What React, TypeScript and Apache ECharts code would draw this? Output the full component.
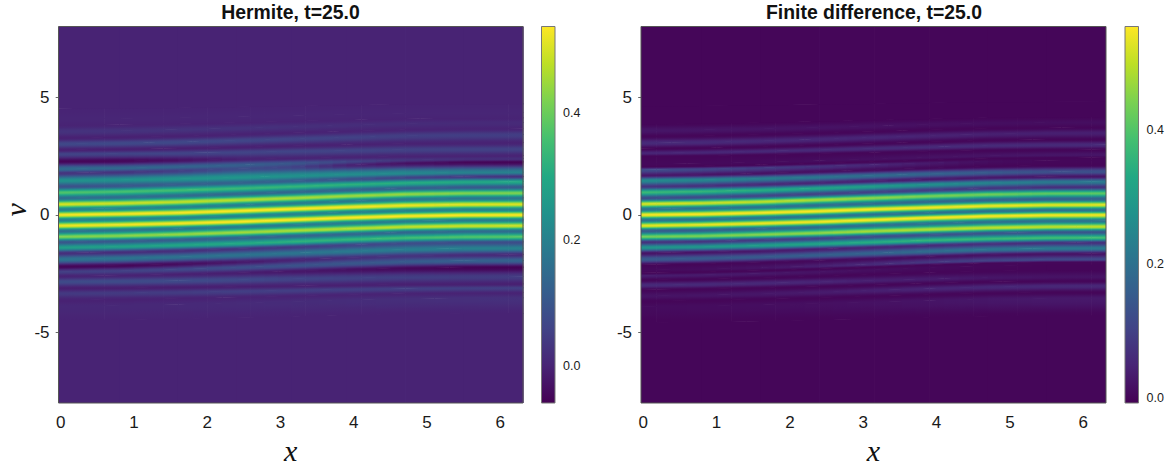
import React, { useEffect, useRef } from "react";
import * as echarts from "echarts";

const xStations = [-0.03, 0.8, 1.6, 2.4, 3.15, 3.9, 4.7, 5.5, 6.31];
const xTicks = [0, 1, 2, 3, 4, 5, 6];
const vTicks = [-5, 0, 5];
const hermiteBarTicks = [0, 0.2, 0.4];
const fdBarTicks = [0, 0.2, 0.4];
const hermiteRange = [-0.0585, 0.537];
const fdRange = [-0.0082, 0.555];

const flat = (v: number) => [v, v, v, v, v, v, v, v, v];

// Ridge and trough positions (v) at each x station, Hermite panel
const hermiteLevelV = [
  flat(-8),
  [-4.5, -4.48, -4.44, -4.39, -4.34, -4.28, -4.23, -4.21, -4.2],
  [-3.9, -3.87, -3.83, -3.77, -3.71, -3.64, -3.59, -3.56, -3.55],
  [-3.63, -3.61, -3.57, -3.52, -3.47, -3.41, -3.36, -3.34, -3.33],
  [-3.35, -3.33, -3.3, -3.26, -3.22, -3.18, -3.15, -3.13, -3.12],
  [-3.13, -3.12, -3.09, -3.06, -3.03, -3.0, -2.97, -2.96, -2.95],
  [-2.85, -2.83, -2.81, -2.77, -2.73, -2.7, -2.66, -2.65, -2.64],
  [-2.62, -2.59, -2.54, -2.48, -2.41, -2.34, -2.28, -2.25, -2.24],
  [-2.43, -2.39, -2.33, -2.25, -2.17, -2.08, -2.0, -1.96, -1.95],
  [-2.21, -2.17, -2.1, -2.02, -1.93, -1.84, -1.76, -1.72, -1.7],
  [-1.9, -1.86, -1.8, -1.72, -1.64, -1.56, -1.48, -1.44, -1.43],
  [-1.64, -1.6, -1.54, -1.46, -1.38, -1.3, -1.22, -1.18, -1.17],
  [-1.4, -1.36, -1.3, -1.23, -1.15, -1.06, -0.99, -0.95, -0.94],
  [-1.17, -1.13, -1.07, -0.99, -0.91, -0.83, -0.75, -0.71, -0.7],
  [-0.94, -0.9, -0.84, -0.76, -0.68, -0.6, -0.52, -0.48, -0.47],
  [-0.7, -0.66, -0.6, -0.52, -0.44, -0.36, -0.28, -0.24, -0.23],
  [-0.47, -0.43, -0.37, -0.3, -0.22, -0.13, -0.06, -0.02, -0.01],
  [-0.23, -0.19, -0.14, -0.06, 0.02, 0.1, 0.17, 0.21, 0.22],
  [-0.01, 0.03, 0.08, 0.16, 0.24, 0.32, 0.39, 0.43, 0.44],
  [0.22, 0.26, 0.32, 0.4, 0.48, 0.57, 0.65, 0.69, 0.7],
  [0.44, 0.48, 0.54, 0.62, 0.7, 0.79, 0.87, 0.91, 0.92],
  [0.7, 0.74, 0.8, 0.88, 0.96, 1.04, 1.12, 1.16, 1.17],
  [0.94, 0.98, 1.04, 1.11, 1.19, 1.28, 1.35, 1.39, 1.4],
  [1.19, 1.22, 1.28, 1.35, 1.43, 1.5, 1.57, 1.61, 1.62],
  [1.45, 1.48, 1.52, 1.58, 1.64, 1.71, 1.76, 1.79, 1.8],
  [1.76, 1.8, 1.86, 1.94, 2.02, 2.1, 2.18, 2.22, 2.23],
  [1.94, 1.97, 2.03, 2.1, 2.18, 2.25, 2.32, 2.36, 2.37],
  [2.26, 2.28, 2.31, 2.35, 2.39, 2.44, 2.47, 2.49, 2.5],
  [2.57, 2.59, 2.61, 2.65, 2.69, 2.72, 2.76, 2.77, 2.78],
  [2.75, 2.77, 2.81, 2.86, 2.92, 2.97, 3.02, 3.04, 3.05],
  [3.0, 3.03, 3.08, 3.15, 3.21, 3.28, 3.35, 3.38, 3.39],
  [3.25, 3.28, 3.33, 3.4, 3.47, 3.54, 3.61, 3.64, 3.65],
  [3.53, 3.56, 3.61, 3.67, 3.73, 3.8, 3.86, 3.89, 3.9],
  [3.8, 3.82, 3.86, 3.91, 3.97, 4.02, 4.07, 4.09, 4.1],
  [4.05, 4.07, 4.11, 4.15, 4.2, 4.25, 4.29, 4.31, 4.32],
  [4.5, 4.52, 4.54, 4.58, 4.61, 4.65, 4.68, 4.69, 4.7],
  flat(8),
];

// f(x,v) read along each of those levels, Hermite panel
const hermiteLevelF = [
  flat(0),
  flat(0),
  [0.008, 0.008, 0.01, 0.013, 0.015, 0.017, 0.02, 0.022, 0.024],
  [-0.003, -0.003, -0.002, -0.001, 0, 0, 0, 0, 0],
  [0.04, 0.042, 0.045, 0.05, 0.05, 0.05, 0.05, 0.05, 0.05],
  [-0.008, -0.008, -0.008, -0.007, -0.006, -0.006, -0.006, -0.006, -0.006],
  [0.075, 0.075, 0.075, 0.07, 0.06, 0.055, 0.05, 0.045, 0.045],
  [0, 0, -0.005, -0.01, -0.02, -0.03, -0.045, -0.055, -0.055],
  [0.05, 0.055, 0.065, 0.08, 0.09, 0.1, 0.11, 0.125, 0.13],
  [-0.05, -0.05, -0.04, -0.02, 0, 0.02, 0.03, 0.015, 0.01],
  [0.17, 0.17, 0.165, 0.165, 0.17, 0.18, 0.19, 0.2, 0.2],
  [0.02, 0.02, 0.02, 0.03, 0.04, 0.06, 0.08, 0.08, 0.08],
  [0.27, 0.28, 0.29, 0.3, 0.32, 0.33, 0.35, 0.37, 0.38],
  [0.1, 0.11, 0.12, 0.125, 0.13, 0.14, 0.14, 0.15, 0.15],
  [0.42, 0.43, 0.44, 0.45, 0.46, 0.47, 0.48, 0.49, 0.49],
  [0.16, 0.17, 0.17, 0.18, 0.18, 0.19, 0.19, 0.19, 0.19],
  [0.52, 0.525, 0.53, 0.535, 0.535, 0.535, 0.535, 0.535, 0.535],
  [0.2, 0.2, 0.2, 0.2, 0.2, 0.2, 0.2, 0.2, 0.2],
  [0.53, 0.53, 0.53, 0.535, 0.535, 0.53, 0.52, 0.505, 0.5],
  [0.2, 0.2, 0.2, 0.19, 0.19, 0.18, 0.18, 0.17, 0.17],
  [0.5, 0.49, 0.48, 0.47, 0.46, 0.45, 0.44, 0.42, 0.42],
  [0.15, 0.15, 0.15, 0.14, 0.14, 0.13, 0.12, 0.11, 0.11],
  [0.37, 0.36, 0.35, 0.34, 0.33, 0.32, 0.31, 0.3, 0.3],
  [0.09, 0.1, 0.12, 0.13, 0.12, 0.09, 0.06, 0.04, 0.03],
  [0.24, 0.24, 0.25, 0.25, 0.24, 0.23, 0.22, 0.2, 0.2],
  [0.03, 0.03, 0.05, 0.08, 0.06, 0, -0.03, -0.05, -0.055],
  [0.15, 0.14, 0.13, 0.12, 0.1, 0.06, 0.03, 0.02, 0.02],
  [-0.05, -0.05, -0.03, -0.005, 0, 0, 0, 0, 0],
  [0.06, 0.06, 0.06, 0.06, 0.06, 0.06, 0.055, 0.055, 0.055],
  [-0.006, -0.006, -0.006, -0.005, -0.005, -0.004, -0.003, -0.003, -0.003],
  [0.07, 0.07, 0.07, 0.065, 0.06, 0.055, 0.05, 0.05, 0.05],
  [-0.005, -0.005, -0.004, -0.003, -0.002, -0.001, 0, 0, 0],
  [0.028, 0.028, 0.027, 0.025, 0.022, 0.018, 0.016, 0.013, 0.013],
  flat(0),
  [0.005, 0.005, 0.005, 0.005, 0.005, 0.004, 0.004, 0.004, 0.004],
  flat(0),
  flat(0),
];

// Ridge and trough positions (v) at each x station, finite difference panel
const fdLevelV = [
  flat(-8),
  [-4.6, -4.58, -4.54, -4.49, -4.44, -4.38, -4.33, -4.31, -4.3],
  [-3.92, -3.89, -3.84, -3.78, -3.72, -3.66, -3.6, -3.57, -3.56],
  [-3.68, -3.65, -3.6, -3.54, -3.47, -3.4, -3.34, -3.31, -3.3],
  [-3.46, -3.43, -3.37, -3.3, -3.22, -3.15, -3.08, -3.04, -3.03],
  [-3.2, -3.17, -3.12, -3.06, -2.99, -2.92, -2.86, -2.83, -2.82],
  [-3.0, -2.97, -2.92, -2.86, -2.8, -2.74, -2.68, -2.65, -2.64],
  [-2.78, -2.75, -2.69, -2.62, -2.54, -2.47, -2.4, -2.36, -2.35],
  [-2.6, -2.56, -2.5, -2.43, -2.35, -2.26, -2.19, -2.15, -2.14],
  [-2.48, -2.44, -2.38, -2.31, -2.23, -2.14, -2.07, -2.03, -2.02],
  [-2.36, -2.32, -2.26, -2.19, -2.11, -2.02, -1.95, -1.91, -1.9],
  [-2.14, -2.1, -2.04, -1.96, -1.88, -1.79, -1.71, -1.67, -1.66],
  [-1.9, -1.86, -1.8, -1.72, -1.64, -1.56, -1.48, -1.44, -1.43],
  [-1.64, -1.6, -1.55, -1.47, -1.39, -1.31, -1.24, -1.2, -1.19],
  [-1.4, -1.37, -1.31, -1.24, -1.17, -1.09, -1.03, -0.99, -0.98],
  [-1.17, -1.14, -1.08, -1.01, -0.93, -0.86, -0.79, -0.75, -0.74],
  [-0.94, -0.91, -0.85, -0.78, -0.7, -0.63, -0.56, -0.52, -0.51],
  [-0.69, -0.66, -0.6, -0.53, -0.45, -0.38, -0.31, -0.27, -0.26],
  [-0.47, -0.43, -0.37, -0.3, -0.22, -0.13, -0.06, -0.02, -0.01],
  [-0.23, -0.2, -0.14, -0.07, 0.01, 0.08, 0.15, 0.19, 0.2],
  [-0.01, 0.02, 0.08, 0.15, 0.23, 0.3, 0.37, 0.41, 0.42],
  [0.23, 0.27, 0.32, 0.4, 0.47, 0.55, 0.62, 0.66, 0.67],
  [0.455, 0.49, 0.55, 0.63, 0.71, 0.79, 0.86, 0.9, 0.91],
  [0.7, 0.74, 0.8, 0.88, 0.96, 1.04, 1.12, 1.16, 1.17],
  [0.95, 0.99, 1.04, 1.12, 1.2, 1.28, 1.35, 1.39, 1.4],
  [1.19, 1.22, 1.28, 1.35, 1.43, 1.5, 1.57, 1.61, 1.62],
  [1.45, 1.48, 1.53, 1.59, 1.66, 1.73, 1.79, 1.82, 1.83],
  [1.66, 1.7, 1.75, 1.83, 1.9, 1.98, 2.05, 2.09, 2.1],
  [1.9, 1.93, 1.98, 2.05, 2.12, 2.19, 2.26, 2.29, 2.3],
  [2.04, 2.07, 2.12, 2.18, 2.25, 2.32, 2.38, 2.41, 2.42],
  [2.14, 2.17, 2.22, 2.29, 2.36, 2.43, 2.5, 2.53, 2.54],
  [2.47, 2.49, 2.53, 2.58, 2.63, 2.68, 2.73, 2.75, 2.76],
  [2.61, 2.64, 2.69, 2.75, 2.81, 2.87, 2.93, 2.96, 2.97],
  [2.8, 2.83, 2.88, 2.95, 3.02, 3.09, 3.16, 3.19, 3.2],
  [3.04, 3.07, 3.13, 3.2, 3.28, 3.35, 3.42, 3.46, 3.47],
  [3.32, 3.35, 3.4, 3.46, 3.53, 3.6, 3.66, 3.69, 3.7],
  [3.57, 3.6, 3.64, 3.7, 3.76, 3.83, 3.88, 3.91, 3.92],
  [3.85, 3.87, 3.91, 3.96, 4.02, 4.07, 4.12, 4.14, 4.15],
  [4.6, 4.62, 4.64, 4.68, 4.71, 4.75, 4.78, 4.79, 4.8],
  flat(8),
];

// f(x,v) read along each of those levels, finite difference panel
const fdLevelF = [
  flat(0),
  flat(0),
  [0.008, 0.01, 0.012, 0.015, 0.018, 0.022, 0.027, 0.03, 0.03],
  flat(0),
  [0.02, 0.022, 0.027, 0.033, 0.04, 0.047, 0.053, 0.055, 0.055],
  flat(0),
  [0.06, 0.058, 0.055, 0.05, 0.04, 0.035, 0.025, 0.02, 0.02],
  flat(0),
  [0.035, 0.032, 0.028, 0.02, 0.012, 0.006, 0.002, 0, 0],
  [0, 0, 0, 0, 0, 0.001, 0.001, 0.002, 0.002],
  [0.005, 0.01, 0.02, 0.04, 0.06, 0.08, 0.1, 0.11, 0.11],
  [0, 0, 0.002, 0.005, 0.01, 0.015, 0.02, 0.02, 0.02],
  [0.15, 0.15, 0.15, 0.16, 0.17, 0.19, 0.21, 0.22, 0.22],
  [0.02, 0.025, 0.03, 0.04, 0.05, 0.06, 0.07, 0.07, 0.07],
  [0.28, 0.29, 0.3, 0.32, 0.34, 0.36, 0.37, 0.38, 0.38],
  [0.07, 0.08, 0.09, 0.1, 0.12, 0.13, 0.14, 0.14, 0.14],
  [0.43, 0.44, 0.45, 0.46, 0.48, 0.49, 0.5, 0.5, 0.5],
  [0.15, 0.16, 0.17, 0.18, 0.19, 0.2, 0.2, 0.2, 0.2],
  [0.53, 0.535, 0.54, 0.545, 0.55, 0.55, 0.55, 0.545, 0.545],
  [0.2, 0.2, 0.2, 0.2, 0.2, 0.2, 0.2, 0.2, 0.2],
  [0.55, 0.55, 0.55, 0.55, 0.55, 0.545, 0.54, 0.53, 0.53],
  [0.2, 0.2, 0.2, 0.19, 0.19, 0.18, 0.17, 0.16, 0.16],
  [0.52, 0.51, 0.5, 0.48, 0.46, 0.44, 0.43, 0.41, 0.41],
  [0.12, 0.12, 0.11, 0.1, 0.1, 0.09, 0.08, 0.07, 0.07],
  [0.37, 0.36, 0.34, 0.32, 0.3, 0.27, 0.24, 0.22, 0.22],
  [0.08, 0.07, 0.06, 0.05, 0.04, 0.03, 0.03, 0.025, 0.025],
  [0.26, 0.25, 0.23, 0.21, 0.19, 0.17, 0.15, 0.13, 0.13],
  [0.03, 0.025, 0.02, 0.015, 0.01, 0.005, 0, 0, 0],
  [0.12, 0.11, 0.09, 0.07, 0.05, 0.03, 0.01, 0.002, 0.002],
  flat(0),
  [0.003, 0.004, 0.006, 0.01, 0.014, 0.018, 0.022, 0.025, 0.025],
  flat(0),
  [0.05, 0.052, 0.055, 0.058, 0.06, 0.06, 0.06, 0.06, 0.06],
  flat(0),
  [0.06, 0.058, 0.055, 0.052, 0.05, 0.046, 0.042, 0.04, 0.04],
  flat(0),
  [0.025, 0.024, 0.022, 0.02, 0.018, 0.015, 0.013, 0.012, 0.012],
  flat(0),
  flat(0),
  flat(0),
];

const viridisAnchors = [
  [68, 1, 84], [72, 36, 117], [65, 68, 135], [53, 95, 141], [42, 120, 142], [33, 145, 140],
  [34, 168, 132], [68, 191, 112], [122, 209, 81], [189, 223, 38], [253, 231, 37],
];

const viridis = (t: number) => {
  const c = Math.max(0, Math.min(1, t)) * (viridisAnchors.length - 1);
  const i = Math.min(Math.floor(c), viridisAnchors.length - 2);
  const f = c - i;
  const a = viridisAnchors[i];
  const b = viridisAnchors[i + 1];
  return `rgb(${Math.round(a[0] + (b[0] - a[0]) * f)},${Math.round(a[1] + (b[1] - a[1]) * f)},${Math.round(a[2] + (b[2] - a[2]) * f)})`;
};

const buildCells = (vs: number[][], fs: number[][]) => {
  const out: number[][] = [];
  for (let j = 0; j < vs.length - 1; j++) {
    for (let i = 0; i < xStations.length - 1; i++) {
      out.push([
        xStations[i], xStations[i + 1],
        vs[j][i], vs[j][i + 1], vs[j + 1][i], vs[j + 1][i + 1],
        fs[j][i], fs[j][i + 1], fs[j + 1][i], fs[j + 1][i + 1],
      ]);
    }
  }
  return out;
};

const STOPS = 7;
const mix = (a: number, b: number, t: number) => a + (b - a) * t;

const meshRenderer = (range: number[]) => (_p: any, api: any) => {
  const val = (i: number) => api.value(i) as number;
  const norm = (f: number) => (f - range[0]) / (range[1] - range[0]);
  const isFlat = val(6) === val(7) && val(7) === val(8) && val(8) === val(9);
  const sub = isFlat ? 1 : 4;
  const children: any[] = [];
  for (let k = 0; k < sub; k++) {
    const t0 = k / sub;
    const t1 = (k + 1) / sub;
    const tm = (t0 + t1) / 2;
    const xa = mix(val(0), val(1), t0);
    const xb = mix(val(0), val(1), t1);
    const bl = api.coord([xa, mix(val(2), val(3), t0)]);
    const br = api.coord([xb, mix(val(2), val(3), t1)]);
    const tl = api.coord([xa, mix(val(4), val(5), t0)]);
    const tr = api.coord([xb, mix(val(4), val(5), t1)]);
    const lo = mix(val(6), val(7), tm);
    const hi = mix(val(8), val(9), tm);
    const points = [
      [bl[0], bl[1]],
      [br[0] + 0.7, br[1]],
      [tr[0] + 0.7, tr[1] - 0.7],
      [tl[0], tl[1] - 0.7],
    ];
    let fill: any;
    if (Math.abs(hi - lo) < 1e-4) {
      fill = viridis(norm(lo));
    } else {
      const stops = [];
      for (let s = 0; s < STOPS; s++) {
        const u = s / (STOPS - 1);
        const e = u * u * (3 - 2 * u);
        stops.push({ offset: u, color: viridis(norm(lo + (hi - lo) * e)) });
      }
      const xm = (bl[0] + br[0]) / 2;
      const yb = (bl[1] + br[1]) / 2;
      const yt = (tl[1] + tr[1]) / 2;
      const slope = ((br[1] - bl[1]) + (tr[1] - tl[1])) / 2 / (br[0] - bl[0]);
      const dy = yt - yb;
      const q = 1 + slope * slope;
      fill = new echarts.graphic.LinearGradient(xm, yb, xm - (slope * dy) / q, yb + dy / q, stops, true);
    }
    children.push({ type: "polygon", shape: { points }, style: { fill, stroke: null } });
  }
  return { type: "group", children };
};

const barRenderer = (_p: any, api: any) => {
  const a = api.coord([0, api.value(0)]);
  const b = api.coord([1, api.value(1)]);
  const stops = viridisAnchors.map((_, i) => ({
    offset: i / (viridisAnchors.length - 1),
    color: viridis(i / (viridisAnchors.length - 1)),
  }));
  return {
    type: "rect",
    shape: { x: a[0], y: b[1], width: b[0] - a[0], height: a[1] - b[1] },
    style: { fill: new echarts.graphic.LinearGradient(0, 1, 0, 0, stops) },
  };
};

const SANS = "'Liberation Sans', Arial, sans-serif";
const MATH = "'Liberation Serif', serif";

const TOP = 26.5;
const HEIGHT = 376.5;
const panels = [
  { left: 58.5, width: 464.5, center: 290.5, cells: buildCells(hermiteLevelV, hermiteLevelF), range: hermiteRange, title: "Hermite, t=25.0", barLeft: 541.5, barTicks: hermiteBarTicks, yName: "v" },
  { left: 641, width: 465, center: 874, cells: buildCells(fdLevelV, fdLevelF), range: fdRange, title: "Finite difference, t=25.0", barLeft: 1125, barTicks: fdBarTicks, yName: "" },
];
const BAR_W = 13.5;

const buildOption = () => {
  const grid: any[] = [];
  const xAxis: any[] = [];
  const yAxis: any[] = [];
  const series: any[] = [];
  const title: any[] = [];
  const graphic: any[] = [];
  panels.forEach((p, n) => {
    const gi = n * 2;
    grid.push({ left: p.left, top: TOP, width: p.width, height: HEIGHT, outerBoundsMode: "none" });
    xAxis.push({
      gridIndex: gi, type: "value", min: -0.03, max: 6.31,
      name: "x", nameLocation: "middle", nameGap: 32,
      nameTextStyle: { fontFamily: MATH, fontStyle: "italic", fontSize: 30, color: "#111" },
      splitLine: { show: false }, axisLine: { show: false },
      axisTick: { length: 5, customValues: xTicks, lineStyle: { color: "#666", width: 1 } },
      axisLabel: { customValues: xTicks, margin: 11, fontFamily: SANS, fontSize: 17, color: "#1a1a1a" },
    });
    yAxis.push({
      gridIndex: gi, type: "value", min: -8, max: 8,
      name: p.yName, nameLocation: "middle", nameGap: 27, nameRotate: 90,
      nameTextStyle: { fontFamily: MATH, fontStyle: "italic", fontSize: 30, color: "#111", padding: [0, 0, 0, 10] },
      splitLine: { show: false }, axisLine: { show: false },
      axisTick: { length: 5, customValues: vTicks, lineStyle: { color: "#666", width: 1 } },
      axisLabel: { customValues: vTicks, margin: 9, fontFamily: SANS, fontSize: 17, color: "#1a1a1a" },
    });
    series.push({
      type: "custom", xAxisIndex: gi, yAxisIndex: gi, data: p.cells, clip: true, silent: true,
      progressive: 0, renderItem: meshRenderer(p.range),
    });
    grid.push({ left: p.barLeft, top: TOP, width: BAR_W, height: HEIGHT, outerBoundsMode: "none" });
    xAxis.push({ gridIndex: gi + 1, type: "value", min: 0, max: 1, show: false });
    yAxis.push({
      gridIndex: gi + 1, type: "value", position: "right", min: p.range[0], max: p.range[1],
      splitLine: { show: false }, axisLine: { show: false },
      axisTick: { length: 4, customValues: p.barTicks, lineStyle: { color: "#555", width: 1 } },
      axisLabel: { customValues: p.barTicks, margin: 8, fontFamily: SANS, fontSize: 12.5, color: "#1a1a1a", formatter: (v: number) => v.toFixed(1) },
    });
    series.push({
      type: "custom", xAxisIndex: gi + 1, yAxisIndex: gi + 1, data: [[p.range[0], p.range[1]]], silent: true,
      renderItem: barRenderer,
    });
    title.push({
      text: p.title, left: p.center, top: 2, padding: 0, textAlign: "center",
      textStyle: { fontFamily: SANS, fontWeight: "bold", fontSize: 19.4, color: "#111" },
    });
    graphic.push(
      { type: "rect", z: 50, silent: true, shape: { x: p.left, y: TOP, width: p.width, height: HEIGHT }, style: { fill: "none", stroke: "#555", lineWidth: 1 } },
      { type: "rect", z: 50, silent: true, shape: { x: p.barLeft, y: TOP, width: BAR_W, height: HEIGHT }, style: { fill: "none", stroke: "#777", lineWidth: 1 } },
    );
  });
  return { animation: false, backgroundColor: "#fff", title, grid, xAxis, yAxis, series, graphic };
};

export default function App() {
  const ref = useRef<HTMLDivElement>(null);
  useEffect(() => {
    document.body.style.margin = "0";
    const chart = echarts.init(ref.current!, undefined, { renderer: "svg" });
    chart.setOption(buildOption() as any);
    return () => chart.dispose();
  }, []);
  return <div ref={ref} style={{ width: 1172, height: 471 }} />;
}
